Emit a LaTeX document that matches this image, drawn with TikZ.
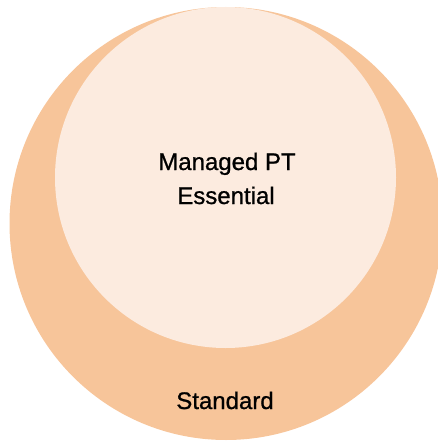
\documentclass[tikz,border=0pt]{standalone}
\usepackage{fontspec}
\setmainfont{Liberation Sans}
\newfontfamily\labfont{Liberation Sans}[FakeBold=0.9]
\definecolor{outerc}{HTML}{F7C59A}
\definecolor{innerc}{HTML}{FCEBDF}
\tikzset{
  circlab/.style={font=\labfont\fontsize{24}{34}\selectfont, text=black, inner sep=0pt, align=center},
}
\begin{document}
\begin{tikzpicture}[x=1pt,y=-1pt]
  \useasboundingbox (0,0) rectangle (438,441);
  \fill[outerc] (226,223.5) circle (216.5);
  \fill[innerc] (225.5,177.5) circle (170.5);
  \node[circlab, anchor=base] (inner) at (227,170) {Managed PT};
  \node[circlab, anchor=base] (inner2) at (226,204) {Essential};
  \node[circlab, anchor=base] (outer) at (225,409) {Standard};
\end{tikzpicture}
\end{document}
